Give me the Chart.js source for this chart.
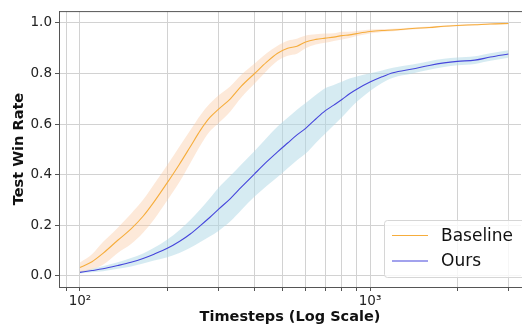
<!DOCTYPE html>
<html>
<head>
<meta charset="utf-8">
<script src="https://cdn.jsdelivr.net/npm/chart.js@4/dist/chart.umd.min.js"></script>
<style>
  html, body { margin: 0; padding: 0; background: #ffffff; overflow: hidden; }
  #wrap { width: 522px; height: 326px; }
</style>
</head>
<body>
<div id="wrap"><canvas id="myChart" width="522" height="326"></canvas></div>
<script>
// valores
const timesteps = [100, 110, 120, 135, 150, 165, 180, 200, 220, 240, 260, 280, 300, 330, 360, 400, 440, 480, 520, 560, 600, 650, 700, 750, 800, 850, 900, 1000, 1100, 1200, 1400, 1600, 1800, 2000, 2300, 2600, 3000];

const baselineMedia = [0.032, 0.055, 0.088, 0.14, 0.185, 0.235, 0.292, 0.368, 0.44, 0.51, 0.575, 0.625, 0.658, 0.70, 0.75, 0.80, 0.845, 0.88, 0.90, 0.908, 0.925, 0.935, 0.94, 0.944, 0.95, 0.953, 0.958, 0.966, 0.97, 0.972, 0.978, 0.982, 0.987, 0.99, 0.993, 0.996, 0.998];
const baselineDesv = [0.02, 0.03, 0.045, 0.05, 0.06, 0.065, 0.07, 0.07, 0.07, 0.065, 0.06, 0.055, 0.055, 0.05, 0.045, 0.04, 0.035, 0.03, 0.03, 0.03, 0.025, 0.02, 0.018, 0.015, 0.015, 0.012, 0.01, 0.008, 0.006, 0.005, 0.004, 0.004, 0.003, 0.003, 0.003, 0.003, 0.003];

const oursMedia = [0.013, 0.02, 0.027, 0.04, 0.053, 0.068, 0.085, 0.108, 0.135, 0.165, 0.198, 0.23, 0.262, 0.305, 0.35, 0.403, 0.45, 0.49, 0.525, 0.557, 0.583, 0.62, 0.652, 0.675, 0.697, 0.72, 0.738, 0.766, 0.787, 0.803, 0.818, 0.832, 0.842, 0.848, 0.853, 0.865, 0.877];
const oursDesv = [0.005, 0.007, 0.01, 0.013, 0.017, 0.02, 0.025, 0.035, 0.045, 0.055, 0.065, 0.075, 0.085, 0.09, 0.09, 0.09, 0.095, 0.1, 0.1, 0.1, 0.1, 0.095, 0.09, 0.08, 0.07, 0.06, 0.05, 0.035, 0.025, 0.02, 0.018, 0.017, 0.016, 0.015, 0.015, 0.015, 0.015];

const etiquetasSerie = ["Baseline", "Ours"];
const ticksX = [90, 100, 200, 300, 400, 500, 600, 700, 800, 900, 1000, 2000, 3000];
const ticksY = [0, 0.2, 0.4, 0.6, 0.8, 1.0];

const colorBaseline = "#f6ad3c";
const colorOurs = "#4646dc";
const bandaBaseline = "rgba(250, 200, 160, 0.4)";
const bandaOurs = "rgba(173, 216, 230, 0.5)";
const fuente = "'DejaVu Sans'";

function puntos(media, desv, signo) {
  return timesteps.map(function (t, i) {
    return { x: t, y: media[i] + signo * desv[i] };
  });
}

// leyenda dibujada dentro del area del grafico, abajo a la derecha
const leyendaDentro = {
  id: "leyendaDentro",
  afterDraw: function (chart) {
    const ctx = chart.ctx;
    const area = chart.chartArea;
    ctx.save();
    // borde superior del marco
    ctx.strokeStyle = "#555555";
    ctx.lineWidth = 1;
    ctx.beginPath();
    ctx.moveTo(area.left, area.top + 0.5);
    ctx.lineTo(area.right + 2, area.top + 0.5);
    ctx.stroke();

    const x0 = 384.5, y0 = 220.5, w = 145, h = 57, r = 3;
    ctx.fillStyle = "rgba(255, 255, 255, 0.8)";
    ctx.strokeStyle = "#d6d6d6";
    ctx.beginPath();
    ctx.moveTo(x0 + r, y0);
    ctx.lineTo(x0 + w - r, y0);
    ctx.arcTo(x0 + w, y0, x0 + w, y0 + r, r);
    ctx.lineTo(x0 + w, y0 + h - r);
    ctx.arcTo(x0 + w, y0 + h, x0 + w - r, y0 + h, r);
    ctx.lineTo(x0 + r, y0 + h);
    ctx.arcTo(x0, y0 + h, x0, y0 + h - r, r);
    ctx.lineTo(x0, y0 + r);
    ctx.arcTo(x0, y0, x0 + r, y0, r);
    ctx.closePath();
    ctx.fill();
    ctx.stroke();

    const colores = [colorBaseline, colorOurs];
    ctx.font = "17px " + fuente;
    ctx.textBaseline = "middle";
    ctx.textAlign = "left";
    etiquetasSerie.forEach(function (etiqueta, i) {
      const y = 235.5 + i * 25.5;
      ctx.strokeStyle = colores[i];
      ctx.lineWidth = 1.1;
      ctx.beginPath();
      ctx.moveTo(392, y);
      ctx.lineTo(428, y);
      ctx.stroke();
      ctx.fillStyle = "#111111";
      ctx.fillText(etiqueta, 441, y + 1);
    });
    ctx.restore();
  }
};

const ctx = document.getElementById("myChart").getContext("2d");
new Chart(ctx, {
  type: "line",
  data: {
    datasets: [
      {
        label: etiquetasSerie[0],
        data: puntos(baselineMedia, baselineDesv, 0),
        borderColor: colorBaseline,
        borderWidth: 1.1,
        pointRadius: 0,
        cubicInterpolationMode: "monotone",
        fill: false,
        order: 0
      },
      {
        label: etiquetasSerie[1],
        data: puntos(oursMedia, oursDesv, 0),
        borderColor: colorOurs,
        borderWidth: 1.1,
        pointRadius: 0,
        cubicInterpolationMode: "monotone",
        fill: false,
        order: 0
      },
      {
        label: "baseline-sup",
        data: puntos(baselineMedia, baselineDesv, 1),
        borderWidth: 0,
        pointRadius: 0,
        cubicInterpolationMode: "monotone",
        backgroundColor: bandaBaseline,
        fill: "+1",
        order: 1
      },
      {
        label: "baseline-inf",
        data: puntos(baselineMedia, baselineDesv, -1),
        borderWidth: 0,
        pointRadius: 0,
        cubicInterpolationMode: "monotone",
        fill: false,
        order: 1
      },
      {
        label: "ours-sup",
        data: puntos(oursMedia, oursDesv, 1),
        borderWidth: 0,
        pointRadius: 0,
        cubicInterpolationMode: "monotone",
        backgroundColor: bandaOurs,
        fill: "+1",
        order: 1
      },
      {
        label: "ours-inf",
        data: puntos(oursMedia, oursDesv, -1),
        borderWidth: 0,
        pointRadius: 0,
        cubicInterpolationMode: "monotone",
        fill: false,
        order: 1
      }
    ]
  },
  options: {
    responsive: false,
    animation: false,
    layout: { padding: { top: 9, right: 1, left: 0, bottom: 0 } },
    plugins: {
      legend: { display: false },
      tooltip: { enabled: false }
    },
    scales: {
      x: {
        type: "logarithmic",
        min: 84.65,
        max: 3316,
        afterBuildTicks: function (scale) {
          scale.ticks = ticksX.map(function (v) { return { value: v }; });
        },
        afterFit: function (scale) { scale.height = 39; },
        ticks: {
          autoSkip: false,
          maxRotation: 0,
          padding: 2,
          color: "#222222",
          font: { family: fuente, size: 13.5 },
          callback: function (value) {
            if (value === 100) return "10\u00b2";
            if (value === 1000) return "10\u00b3";
            return "";
          }
        },
        grid: {
          color: "#d2d2d2",
          lineWidth: 1,
          tickLength: 4,
          tickColor: "#555555"
        },
        border: { color: "#555555", width: 1 },
        title: {
          display: true,
          text: "Timesteps (Log Scale)",
          color: "#111111",
          font: { family: fuente, size: 14.5, weight: "bold" },
          padding: { top: 0, bottom: 0 }
        }
      },
      y: {
        min: -0.045,
        max: 1.047,
        afterBuildTicks: function (scale) {
          scale.ticks = ticksY.map(function (v) { return { value: v }; });
        },
        afterFit: function (scale) { scale.width = 59; },
        ticks: {
          padding: 3,
          color: "#222222",
          font: { family: fuente, size: 13.5 },
          callback: function (value) { return value.toFixed(1); }
        },
        grid: {
          color: "#d2d2d2",
          lineWidth: 1,
          tickLength: 4,
          tickColor: "#555555"
        },
        border: { color: "#555555", width: 1 },
        title: {
          display: true,
          text: "Test Win Rate",
          color: "#111111",
          font: { family: fuente, size: 14.5, weight: "bold" },
          padding: { top: 11, bottom: 0 }
        }
      }
    }
  },
  plugins: [leyendaDentro]
});
</script>
</body>
</html>
